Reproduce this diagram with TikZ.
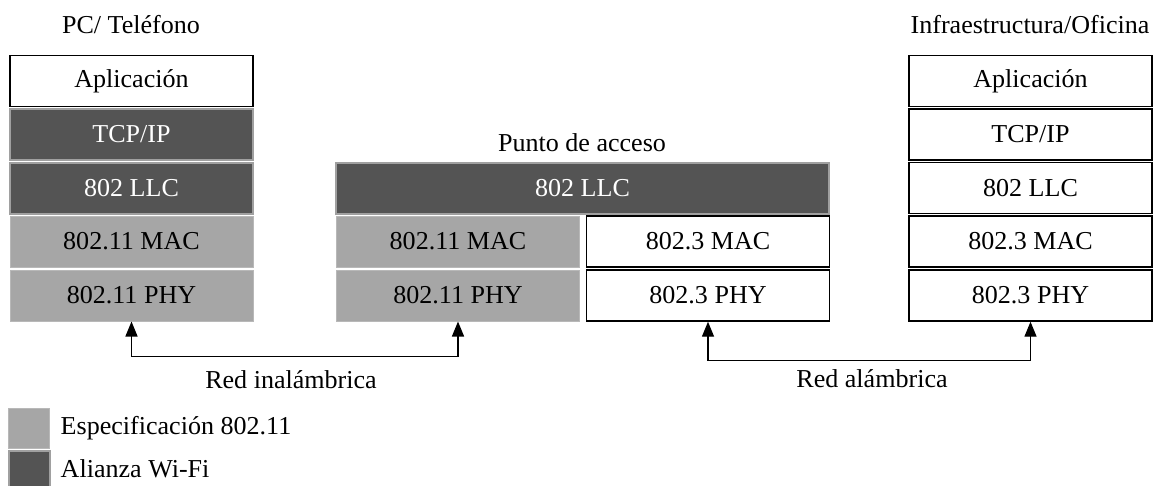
\documentclass[tikz,border=0pt]{standalone}
\usepackage{fontspec}
\setmainfont{Liberation Serif}[FakeStretch=1.01]
\usetikzlibrary{arrows.meta}

\definecolor{wifidark}{HTML}{545454}
\definecolor{specgray}{HTML}{A6A6A6}
\definecolor{edgegray}{HTML}{A0A0A0}

\tikzset{
	layer/.style={minimum width=243pt, minimum height=51pt, inner sep=0pt, font=\fontsize{25.8}{30}\selectfont},
	plainlayer/.style={layer, draw=black, line width=1.4pt, fill=white},
	speclayer/.style={layer, draw=specgray!80!white, line width=1pt, fill=specgray},
	alliancelayer/.style={layer, draw=edgegray, line width=2pt, fill=wifidark, text=white},
	caption/.style={font=\fontsize{25.8}{30}\selectfont, inner sep=0pt}
}

\begin{document}
\begin{tikzpicture}[x=1pt, y=-1pt, >={Triangle[length=15pt,width=12pt]}, line width=1.4pt]
			\useasboundingbox (0,0) rectangle (1155,485);
			% PC / telefono
			\node[caption] (pctitle) at (131,25) {PC/ Teléfono};
			\node[plainlayer] (pcapp) at (131.5,81) {Aplicación};
			\node[alliancelayer] (pctcp) at (131.5,134.5) {TCP/IP};
			\node[alliancelayer] (pcllc) at (131.5,188) {802 LLC};
			\node[speclayer] (pcmac) at (131.5,241.5) {802.11 MAC};
			\node[speclayer] (pcphy) at (131.5,295.5) {802.11 PHY};
			% punto de acceso
			\node[caption] (aptitle) at (582,143) {Punto de acceso};
			\node[alliancelayer, minimum width=493pt] (apllc) at (582.5,188) {802 LLC};
			\node[speclayer] (apwmac) at (458,241.5) {802.11 MAC};
			\node[speclayer] (apwphy) at (458,295.5) {802.11 PHY};
			\node[plainlayer] (apemac) at (708,241.5) {802.3 MAC};
			\node[plainlayer] (apephy) at (708,295.5) {802.3 PHY};
			% infraestructura / oficina
			\node[caption] (oftitle) at (1030,25) {Infraestructura/Oficina};
			\node[plainlayer] (ofapp) at (1030.5,81) {Aplicación};
			\node[plainlayer] (oftcp) at (1030.5,134.5) {TCP/IP};
			\node[plainlayer] (ofllc) at (1030.5,188) {802 LLC};
			\node[plainlayer] (ofmac) at (1030.5,241.5) {802.3 MAC};
			\node[plainlayer] (ofphy) at (1030.5,295.5) {802.3 PHY};
			% enlaces
			\draw[<->] (pcphy.south) -- ++(0,35) -| (apwphy.south);
			\node[caption] (wless) at (291,380) {Red inalámbrica};
			\draw[<->] (apephy.south) -- ++(0,39) -| (ofphy.south);
			\node[caption] (wired) at (872,379) {Red alámbrica};
			% leyenda
			\node[draw=specgray!80!white, line width=1pt, fill=specgray, minimum width=41pt, minimum height=40pt, inner sep=0pt] (keyspec) at (29,428) {};
			\node[caption, anchor=west] (keyspectext) at (60,428) {Especificación 802.11};
			\node[draw=edgegray, line width=2pt, fill=wifidark, minimum width=41pt, minimum height=38pt, inner sep=0pt] (keywifi) at (29,470) {};
			\node[caption, anchor=west] (keywifitext) at (60,469) {Alianza Wi-Fi};
		\end{tikzpicture}
\end{document}
